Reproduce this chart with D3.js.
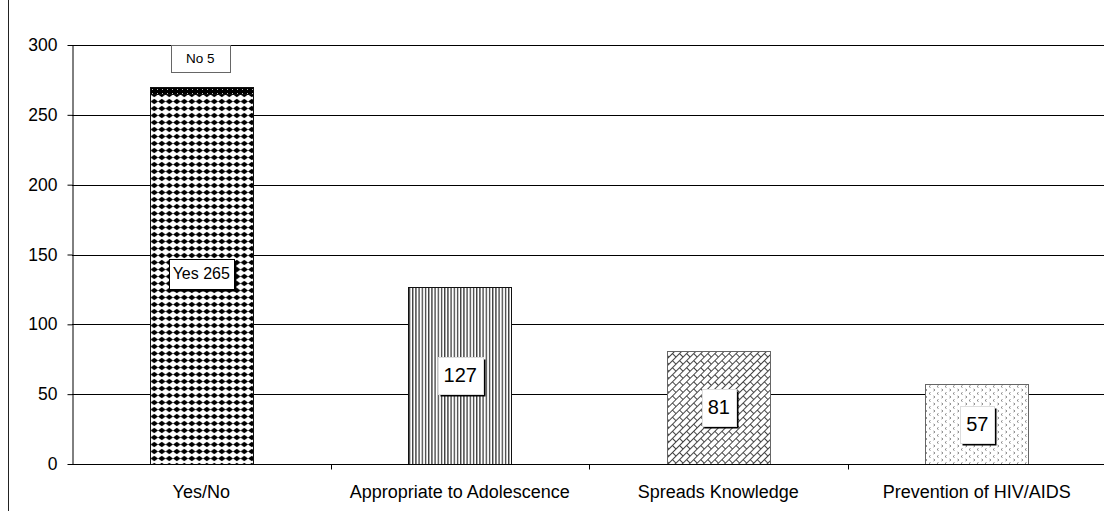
<!DOCTYPE html>
<html>
<head>
<meta charset="utf-8">
<script src="https://cdn.jsdelivr.net/npm/d3@7"></script>
<style>
  html, body { margin: 0; padding: 0; background: #fff; }
  svg { display: block; font-family: "Liberation Sans", Arial, sans-serif; }
</style>
</head>
<body>
<svg id="chart" width="1104" height="511"></svg>
<script>
// Survey responses
const categories = ["Yes/No", "Appropriate to Adolescence", "Spreads Knowledge", "Prevention of HIV/AIDS"];
const yesValues  = [265, 127, 81, 57];   // first bar: "Yes"; other bars: single value
const noValues   = [5, 0, 0, 0];         // "No" stacked on top of the first bar
const yTicks     = [0, 50, 100, 150, 200, 250, 300];

const svg = d3.select("#chart");
const W = 1104, H = 511;
const plot = { left: 72, right: 1106, top: 45, bottom: 464 };

const x = d3.scaleBand()
  .domain(categories)
  .range([plot.left, plot.right])
  .paddingInner(0.6)
  .paddingOuter(0.3);

const y = d3.scaleLinear().domain([0, 300]).range([plot.bottom, plot.top]);

// ---------- fill patterns ----------
const defs = svg.append("defs");

// solid diamonds
const pDiamond = defs.append("pattern").attr("id", "pDiamond")
  .attr("patternUnits", "userSpaceOnUse").attr("width", 7.5).attr("height", 7)
  .attr("x", x(categories[0]) + 1);
pDiamond.append("rect").attr("width", 7.5).attr("height", 7).attr("fill", "#fff");
pDiamond.append("path").attr("d", "M3.75,0.8 L7.5,3.5 L3.75,6.2 L0,3.5 Z").attr("fill", "#000");

// dark dotted
const pDark = defs.append("pattern").attr("id", "pDark")
  .attr("patternUnits", "userSpaceOnUse").attr("width", 5).attr("height", 4);
pDark.append("rect").attr("width", 5).attr("height", 4).attr("fill", "#000");
pDark.append("rect").attr("x", 2).attr("y", 1).attr("width", 1).attr("height", 1).attr("fill", "#bbb");

// narrow vertical lines
const pVert = defs.append("pattern").attr("id", "pVert")
  .attr("patternUnits", "userSpaceOnUse").attr("width", 3.2).attr("height", 10)
  .attr("x", x(categories[1]));
pVert.append("rect").attr("width", 3.2).attr("height", 10).attr("fill", "#fff");
pVert.append("rect").attr("x", 1).attr("width", 1).attr("height", 10).attr("fill", "#000");

// diagonal brick
const pBrick = defs.append("pattern").attr("id", "pBrick")
  .attr("patternUnits", "userSpaceOnUse").attr("width", 10).attr("height", 10)
  .attr("patternTransform", "rotate(-45)");
pBrick.append("rect").attr("width", 10).attr("height", 10).attr("fill", "#fff");
pBrick.append("path")
  .attr("d", "M0,0.5 H10 M0,5.5 H10 M0.5,0.5 V5.5 M5.5,5.5 V10")
  .attr("stroke", "#444").attr("stroke-width", 1).attr("fill", "none");

// light confetti
const pConf = defs.append("pattern").attr("id", "pConf")
  .attr("patternUnits", "userSpaceOnUse").attr("width", 8).attr("height", 7);
pConf.append("rect").attr("width", 8).attr("height", 7).attr("fill", "#fff");
pConf.append("path")
  .attr("d", "M2.5,0.5 L1,1.5 L2.5,2.5 M5.5,4 L7,5 L5.5,6")
  .attr("stroke", "#777").attr("stroke-width", 0.9).attr("fill", "none");

const fills = ["url(#pDiamond)", "url(#pVert)", "url(#pBrick)", "url(#pConf)"];
const strokes = ["#111", "#111", "#666", "#666"];

// ---------- frame line at the left ----------
svg.append("line").attr("x1", 8.5).attr("x2", 8.5).attr("y1", 0).attr("y2", H)
  .attr("stroke", "#222").attr("stroke-width", 1);

// ---------- gridlines ----------
svg.append("g").selectAll("line").data(yTicks.filter(d => d > 0)).join("line")
  .attr("x1", plot.left).attr("x2", W)
  .attr("y1", d => Math.round(y(d)) + 0.5).attr("y2", d => Math.round(y(d)) + 0.5)
  .attr("stroke", "#000").attr("stroke-width", 1);

// ---------- y axis ----------
const yAxis = svg.append("g")
  .attr("transform", `translate(${plot.left + 0.5},0)`)
  .call(d3.axisLeft(y).tickValues(yTicks).tickSize(5).tickPadding(10).tickSizeOuter(0));
yAxis.select(".domain").attr("stroke", "#000");
yAxis.selectAll(".tick line").attr("stroke", "#000");
yAxis.selectAll(".tick text").attr("font-size", 17.5).attr("fill", "#000")
  .attr("font-family", "Liberation Sans, Arial, sans-serif");

// ---------- bars ----------
const bars = svg.append("g");
categories.forEach((c, i) => {
  bars.append("rect")
    .attr("x", Math.round(x(c)) + 0.5)
    .attr("y", Math.round(y(yesValues[i])) + 0.5)
    .attr("width", Math.round(x.bandwidth()))
    .attr("height", Math.round(y(0)) - Math.round(y(yesValues[i])))
    .attr("fill", fills[i]).attr("stroke", strokes[i]).attr("stroke-width", 1);
  if (noValues[i] > 0) {
    bars.append("rect")
      .attr("x", Math.round(x(c)) + 0.5)
      .attr("y", Math.round(y(yesValues[i] + noValues[i])) + 0.5)
      .attr("width", Math.round(x.bandwidth()))
      .attr("height", Math.round(y(yesValues[i])) - Math.round(y(yesValues[i] + noValues[i])))
      .attr("fill", "url(#pDark)").attr("stroke", "#111").attr("stroke-width", 1);
  }
});

// ---------- x axis ----------
const xAxisG = svg.append("g").attr("transform", `translate(0,${plot.bottom + 0.5})`);
xAxisG.append("line").attr("x1", plot.left).attr("x2", W).attr("stroke", "#000");
const step = x.step();
const boundaries = d3.range(1, categories.length).map(k => x(categories[0]) - x.paddingOuter() * step + k * step);
xAxisG.selectAll("line.tick").data(boundaries).join("line").attr("class", "tick")
  .attr("x1", d => Math.round(d) + 0.5).attr("x2", d => Math.round(d) + 0.5)
  .attr("y1", 0).attr("y2", 5).attr("stroke", "#000");
xAxisG.selectAll("text").data(categories).join("text")
  .attr("x", d => x(d) + x.bandwidth() / 2)
  .attr("y", 33)
  .attr("text-anchor", "middle")
  .attr("font-size", 18)
  .attr("fill", "#000")
  .text(d => d);

// ---------- data labels ----------
const labels = svg.append("g");
function labelBox(cx, cy, text, opts) {
  const g = labels.append("g");
  const t = g.append("text")
    .attr("x", cx).attr("y", cy)
    .attr("text-anchor", "middle").attr("dominant-baseline", "central")
    .attr("font-size", opts.size).attr("fill", "#000").text(text);
  const tw = t.node().getComputedTextLength();
  const bw = Math.round(tw + opts.padX * 2), bh = opts.h;
  const bx = Math.round(cx - bw / 2) + 0.5, by = Math.round(cy - bh / 2) + 0.5;
  if (opts.shadow) {
    g.insert("rect", "text").attr("x", bx + 2).attr("y", by + 2)
      .attr("width", bw).attr("height", bh).attr("fill", "#000");
  }
  g.insert("rect", "text").attr("x", bx).attr("y", by)
    .attr("width", bw).attr("height", bh)
    .attr("fill", "#fff").attr("stroke", opts.stroke).attr("stroke-width", 1);
}

// first bar: stacked labels
const c0 = x(categories[0]) + x.bandwidth() / 2;
labelBox(c0 - 1, y(yesValues[0] + noValues[0]) - 28, `No ${noValues[0]}`,
  { size: 13.5, padX: 15, h: 27, stroke: "#666", shadow: false });
labelBox(c0, (y(0) + y(yesValues[0])) / 2 - 5, `Yes ${yesValues[0]}`,
  { size: 16, padX: 4, h: 30, stroke: "#000", shadow: true });

// other bars: value in the middle
categories.slice(1).forEach((c, k) => {
  const i = k + 1;
  const cx = x(c) + x.bandwidth() / 2;
  labelBox(cx + 0.5, (y(0) + y(yesValues[i])) / 2, String(yesValues[i]),
    { size: 20, padX: 6, h: 37, stroke: "#ddd", shadow: true });
});
</script>
</body>
</html>
